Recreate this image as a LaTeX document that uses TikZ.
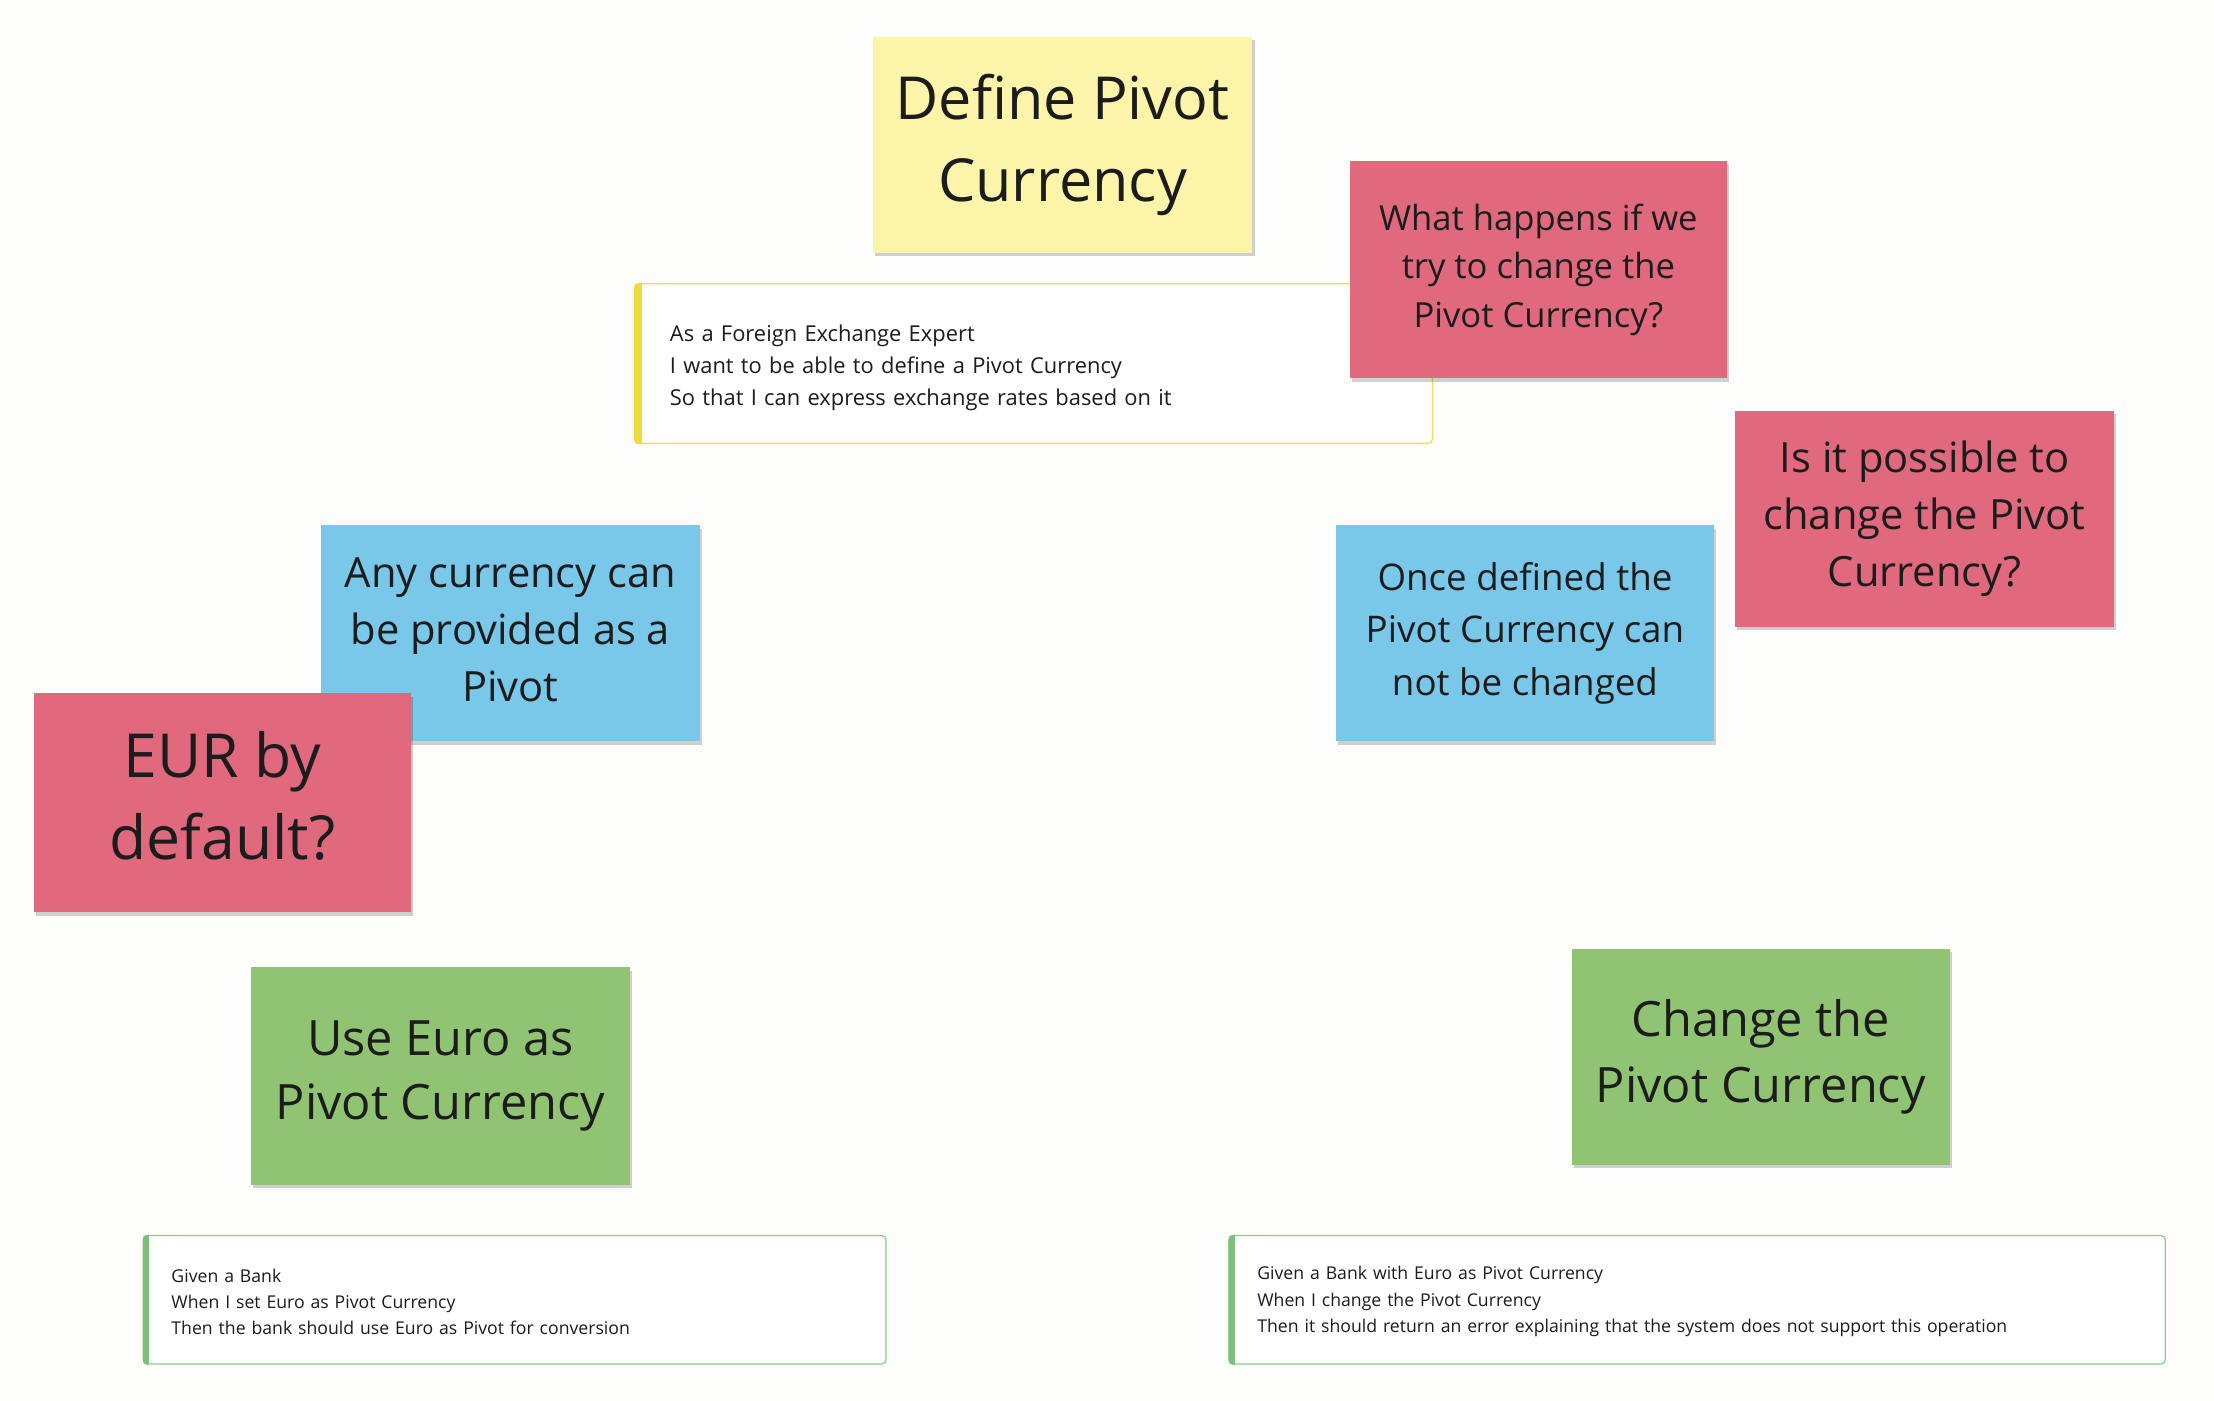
\documentclass[tikz,border=0pt]{standalone}
\usepackage{fontspec}
\setmainfont{Open Sans}
\usetikzlibrary{shadows}
\definecolor{bg}{HTML}{FDFDFB}
\definecolor{ink}{HTML}{1C1C1C}
\definecolor{stickyyellow}{HTML}{FCF5A9}
\definecolor{stickyred}{HTML}{E0697E}
\definecolor{stickyblue}{HTML}{79C7E9}
\definecolor{stickygreen}{HTML}{91C472}
\definecolor{cardyellow}{HTML}{EEDC55}
\definecolor{baryellow}{HTML}{F0DA40}
\definecolor{cardgreen}{HTML}{8FCB8A}
\definecolor{bargreen}{HTML}{7DC07B}
\newcommand\setfs[2]{\fontsize{#1}{#2}\selectfont}
\begin{document}
\begin{tikzpicture}[x=1pt,y=-1pt,
  sticky/.style={rectangle, inner sep=0pt, align=center, text=ink,
    drop shadow={shadow xshift=1.5pt, shadow yshift=-2.5pt, fill=black, opacity=0.18}},
  storycard/.style={rectangle, rounded corners=3pt, fill=white, line width=0.9pt,
    align=left, text=ink, inner ysep=0pt, anchor=west}]
\useasboundingbox (0,0) rectangle (1568,992);
\fill[bg] (0,0) rectangle (1568,992);

% title sticky
\node[sticky, fill=stickyyellow, minimum width=269, minimum height=153,
  font=\setfs{42}{58}] (title) at (752.5,102.5) {Define Pivot\\Currency};

% user story card
\node[storycard, draw=cardyellow, minimum width=565, minimum height=113,
  text width=515, inner xsep=25pt, font=\setfs{15.5}{22.5}, text height=18pt] (story) at (449,257.5)
  {As a Foreign Exchange Expert\\I want to be able to define a Pivot Currency\\So that I can express exchange rates based on it};
\begin{scope}
\clip[rounded corners=3pt] (story.north west) rectangle (story.south east);
\fill[baryellow] (story.north west) rectangle ([xshift=5.5pt]story.south west);
\end{scope}

% questions
\node[sticky, fill=stickyred, minimum width=267, minimum height=154,
  font=\setfs{24.5}{34.5}] (q1) at (1089.5,191) {What happens if we\\try to change the\\Pivot Currency?};
\node[sticky, fill=stickyred, minimum width=268, minimum height=153,
  font=\setfs{29.5}{40.5}] (q2) at (1363,367.5) {Is it possible to\\change the Pivot\\Currency?};

% rules
\node[sticky, fill=stickyblue, minimum width=268, minimum height=153,
  font=\setfs{26}{37}] (r2) at (1080,448.5) {Once defined the\\Pivot Currency can\\not be changed};
\node[sticky, fill=stickyblue, minimum width=269, minimum height=153,
  font=\setfs{29.5}{40.5}, text depth=5pt] (r1) at (361.5,448.5) {Any currency can\\be provided as a\\Pivot};
\node[sticky, fill=stickyred, minimum width=267, minimum height=155,
  font=\setfs{43}{58}, text depth=10pt] (q3) at (157.5,568.5) {EUR by\\default?};

% examples
\node[sticky, fill=stickygreen, minimum width=268, minimum height=154,
  font=\setfs{34.5}{46}] (e1) at (312,762) {Use Euro as\\Pivot Currency};
\node[sticky, fill=stickygreen, minimum width=268, minimum height=153,
  font=\setfs{34.5}{47}] (e2) at (1247,748.5) {Change the\\Pivot Currency};

% scenario cards
\node[storycard, draw=cardgreen, minimum width=526, minimum height=91,
  text width=486, inner xsep=20pt, font=\setfs{12.5}{18.5}, text height=12pt] (s1) at (101,920.5)
  {Given a Bank\\When I set Euro as Pivot Currency\\Then the bank should use Euro as Pivot for conversion};
\begin{scope}
\clip[rounded corners=3pt] (s1.north west) rectangle (s1.south east);
\fill[bargreen] (s1.north west) rectangle ([xshift=4.5pt]s1.south west);
\end{scope}
\node[storycard, draw=cardgreen, minimum width=663, minimum height=91,
  text width=623, inner xsep=20pt, font=\setfs{12.5}{18.5}, text height=12pt] (s2) at (870,920.5)
  {Given a Bank with Euro as Pivot Currency\\When I change the Pivot Currency\\Then it should return an error explaining that the system does not support this operation};
\begin{scope}
\clip[rounded corners=3pt] (s2.north west) rectangle (s2.south east);
\fill[bargreen] (s2.north west) rectangle ([xshift=4.5pt]s2.south west);
\end{scope}
\end{tikzpicture}
\end{document}
